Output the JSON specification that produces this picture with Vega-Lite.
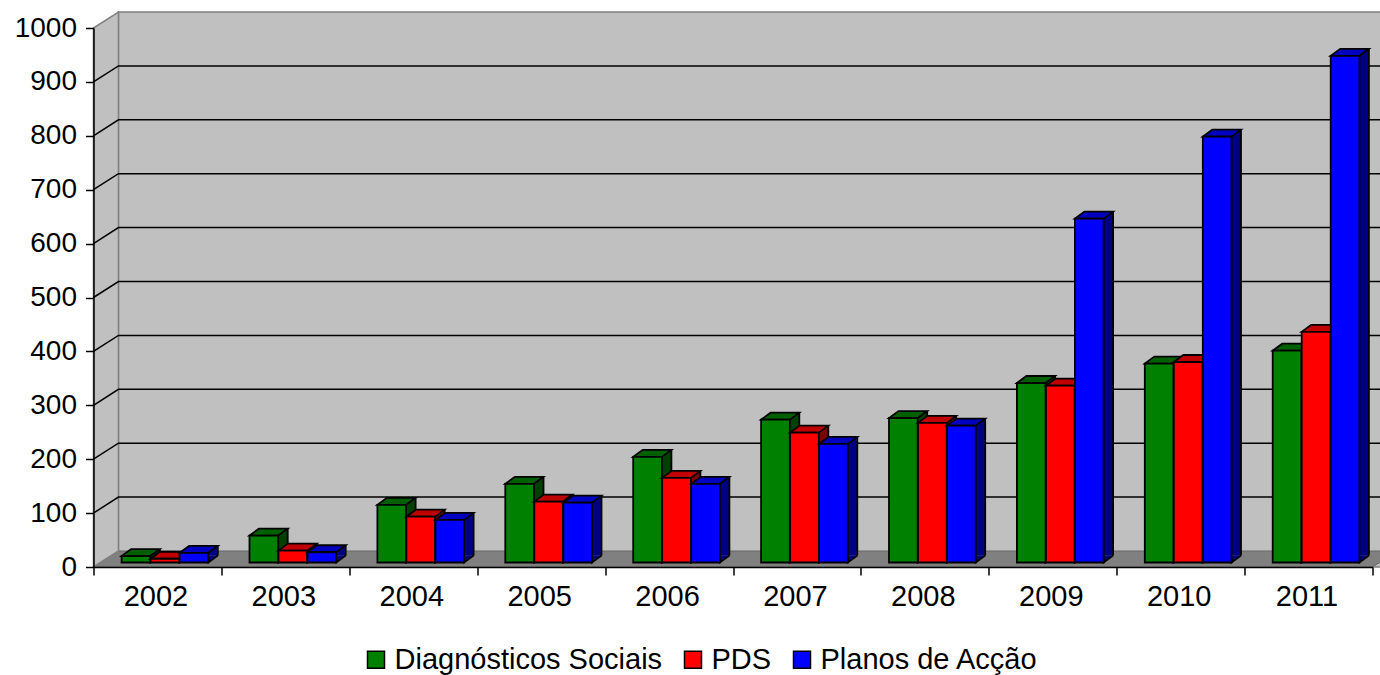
{
"$schema":"https://vega.github.io/schema/vega-lite/v6.json",
"autosize":{"type":"none"},
"padding":{"left":93.5,"top":28,"right":7.5,"bottom":108},
"width":1279,"height":539,
"background":"white",
"config":{"view":{"stroke":null},"font":"Liberation Sans"},
"datasets":{
"bars":[
{"year":"2002","series":"Diagnósticos Sociais","value":12},{"year":"2002","series":"PDS","value":7},{"year":"2002","series":"Planos de Acção","value":18},
{"year":"2003","series":"Diagnósticos Sociais","value":50},{"year":"2003","series":"PDS","value":22},{"year":"2003","series":"Planos de Acção","value":19},
{"year":"2004","series":"Diagnósticos Sociais","value":107},{"year":"2004","series":"PDS","value":85},{"year":"2004","series":"Planos de Acção","value":79},
{"year":"2005","series":"Diagnósticos Sociais","value":146},{"year":"2005","series":"PDS","value":113},{"year":"2005","series":"Planos de Acção","value":111},
{"year":"2006","series":"Diagnósticos Sociais","value":196},{"year":"2006","series":"PDS","value":157},{"year":"2006","series":"Planos de Acção","value":146},
{"year":"2007","series":"Diagnósticos Sociais","value":265},{"year":"2007","series":"PDS","value":241},{"year":"2007","series":"Planos de Acção","value":220},
{"year":"2008","series":"Diagnósticos Sociais","value":268},{"year":"2008","series":"PDS","value":259},{"year":"2008","series":"Planos de Acção","value":254},
{"year":"2009","series":"Diagnósticos Sociais","value":333},{"year":"2009","series":"PDS","value":328},{"year":"2009","series":"Planos de Acção","value":638},
{"year":"2010","series":"Diagnósticos Sociais","value":369},{"year":"2010","series":"PDS","value":372},{"year":"2010","series":"Planos de Acção","value":790},
{"year":"2011","series":"Diagnósticos Sociais","value":393},{"year":"2011","series":"PDS","value":428},{"year":"2011","series":"Planos de Acção","value":940}
],
"ticks":[{"tick":100},{"tick":200},{"tick":300},{"tick":400},{"tick":500},{"tick":600},{"tick":700},{"tick":800},{"tick":900}],
"one":[{"label":"plot"}]
},
"layer":[
{"data":{"name":"one"},"mark":{"type":"point","filled":true,"opacity":1,"size":4,"fill":"#C0C0C0","stroke":"#808080","strokeWidth":1.5,"shape":"M-39,0L-39,-555L1240,-555L1240,0Z"},
 "encoding":{"x":{"datum":"2002","type":"ordinal"},"y":{"datum":0,"type":"quantitative","scale":{"domain":[0,1000],"nice":false}}}},
{"data":{"name":"one"},"mark":{"type":"point","filled":true,"opacity":1,"size":4,"fill":"#808080","stroke":"#666666","strokeWidth":1,"shape":"M-64,0L-39,-16L1240,-16L1215,0Z"},
 "encoding":{"x":{"datum":"2002","type":"ordinal"},"y":{"datum":0,"type":"quantitative"}}},
{"data":{"name":"one"},"mark":{"type":"point","filled":true,"opacity":1,"size":4,"fill":"#C0C0C0","stroke":"#808080","strokeWidth":1.5,"shape":"M-64,0L-39,-16L-39,-555L-64,-539Z"},
 "encoding":{"x":{"datum":"2002","type":"ordinal"},"y":{"datum":0,"type":"quantitative"}}},
{"data":{"name":"ticks"},"mark":{"type":"point","filled":false,"opacity":1,"size":4,"stroke":"#000000","strokeWidth":1.5,"shape":"M-64,0L-39,-16L1240,-16"},
 "encoding":{"x":{"datum":"2002","type":"ordinal"},"y":{"field":"tick","type":"quantitative"}}},
{"data":{"name":"bars"},"transform":[{"filter":"datum.series==='Diagnósticos Sociais'"}],
 "encoding":{"x":{"field":"year","type":"ordinal","scale":{"paddingInner":0,"paddingOuter":0},
   "axis":{"title":null,"labelAngle":0,"tickBand":"extent","domainColor":"#000000","domainWidth":1.5,"tickColor":"#000000","tickWidth":1.5,"tickSize":8,"labelFontSize":29,"labelFont":"Liberation Sans","labelColor":"#000000","labelPadding":21,"labelAlign":"center","labelOffset":-2,"zindex":1}},
   "y":{"field":"value","type":"quantitative","axis":{"title":null,"format":"d","values":[0,100,200,300,400,500,600,700,800,900,1000],"grid":false,"domainColor":"#000000","domainWidth":1.5,"tickColor":"#000000","tickWidth":1.5,"tickSize":8,"labelFontSize":28,"labelFont":"Liberation Sans","labelColor":"#000000","labelPadding":9,"zindex":1}}},
 "layer":[
 {"mark":{"type":"bar","width":28.7,"fill":"#004000","xOffset":-12,"yOffset":-11.5,"y2Offset":-11.5},"encoding":{"y2":{"datum":0}}},
 {"mark":{"type":"rule","color":"#000000","strokeWidth":1.8,"xOffset":2.35,"yOffset":-11.5,"y2Offset":-11.5},"encoding":{"y2":{"datum":0}}},
 {"mark":{"type":"point","filled":true,"opacity":1,"size":4,"fill":"#004000","stroke":"#000000","strokeWidth":1.8,"xOffset":-21.5,"yOffset":-4.5,"shape":"M14.35,-7L14.35,0L23.85,-7"},"encoding":{"y":{"datum":0,"type":"quantitative"}}},
 {"mark":{"type":"point","filled":true,"opacity":1,"size":4,"fill":"#006000","stroke":"#000000","strokeWidth":1.8,"xOffset":-21.5,"yOffset":-4.5,"shape":"M-14.35,0L14.35,0L23.85,-7L-4.85,-7Z"}},
 {"mark":{"type":"bar","width":28.7,"stroke":"#000000","strokeWidth":1.8,"xOffset":-21.5,"yOffset":-4.5,"y2Offset":-4.5},
  "encoding":{"y2":{"datum":0},"color":{"field":"series","type":"nominal","scale":{"domain":["Diagnósticos Sociais","PDS","Planos de Acção"],"range":["#008000","#FF0000","#0000FF"]},
   "legend":{"title":null,"orient":"none","direction":"horizontal","legendX":268,"legendY":617,"symbolType":"square","symbolSize":289,"symbolStrokeColor":"#000000","symbolStrokeWidth":1.5,"labelFontSize":29,"labelFont":"Liberation Sans","labelColor":"#000000","labelOffset":4,"columnPadding":16,"labelLimit":400}}}}
 ]},
{"data":{"name":"bars"},"transform":[{"filter":"datum.series==='PDS'"}],
 "encoding":{"x":{"field":"year","type":"ordinal"},"y":{"field":"value","type":"quantitative"}},
 "layer":[
 {"mark":{"type":"bar","width":28.7,"fill":"#800000","xOffset":17,"yOffset":-11.5,"y2Offset":-11.5},"encoding":{"y2":{"datum":0}}},
 {"mark":{"type":"rule","color":"#000000","strokeWidth":1.8,"xOffset":31.35,"yOffset":-11.5,"y2Offset":-11.5},"encoding":{"y2":{"datum":0}}},
 {"mark":{"type":"point","filled":true,"opacity":1,"size":4,"fill":"#800000","stroke":"#000000","strokeWidth":1.8,"xOffset":7.5,"yOffset":-4.5,"shape":"M14.35,-7L14.35,0L23.85,-7"},"encoding":{"y":{"datum":0,"type":"quantitative"}}},
 {"mark":{"type":"point","filled":true,"opacity":1,"size":4,"fill":"#C00000","stroke":"#000000","strokeWidth":1.8,"xOffset":7.5,"yOffset":-4.5,"shape":"M-14.35,0L14.35,0L23.85,-7L-4.85,-7Z"}},
 {"mark":{"type":"bar","width":28.7,"stroke":"#000000","strokeWidth":1.8,"xOffset":7.5,"yOffset":-4.5,"y2Offset":-4.5},
  "encoding":{"y2":{"datum":0},"color":{"field":"series","type":"nominal"}}}
 ]},
{"data":{"name":"bars"},"transform":[{"filter":"datum.series==='Planos de Acção'"}],
 "encoding":{"x":{"field":"year","type":"ordinal"},"y":{"field":"value","type":"quantitative"}},
 "layer":[
 {"mark":{"type":"bar","width":28.7,"fill":"#000080","xOffset":46,"yOffset":-11.5,"y2Offset":-11.5},"encoding":{"y2":{"datum":0}}},
 {"mark":{"type":"rule","color":"#000000","strokeWidth":1.8,"xOffset":60.35,"yOffset":-11.5,"y2Offset":-11.5},"encoding":{"y2":{"datum":0}}},
 {"mark":{"type":"point","filled":true,"opacity":1,"size":4,"fill":"#000080","stroke":"#000000","strokeWidth":1.8,"xOffset":36.5,"yOffset":-4.5,"shape":"M14.35,-7L14.35,0L23.85,-7"},"encoding":{"y":{"datum":0,"type":"quantitative"}}},
 {"mark":{"type":"point","filled":true,"opacity":1,"size":4,"fill":"#0000C0","stroke":"#000000","strokeWidth":1.8,"xOffset":36.5,"yOffset":-4.5,"shape":"M-14.35,0L14.35,0L23.85,-7L-4.85,-7Z"}},
 {"mark":{"type":"bar","width":28.7,"stroke":"#000000","strokeWidth":1.8,"xOffset":36.5,"yOffset":-4.5,"y2Offset":-4.5},
  "encoding":{"y2":{"datum":0},"color":{"field":"series","type":"nominal"}}}
 ]}
]
}
